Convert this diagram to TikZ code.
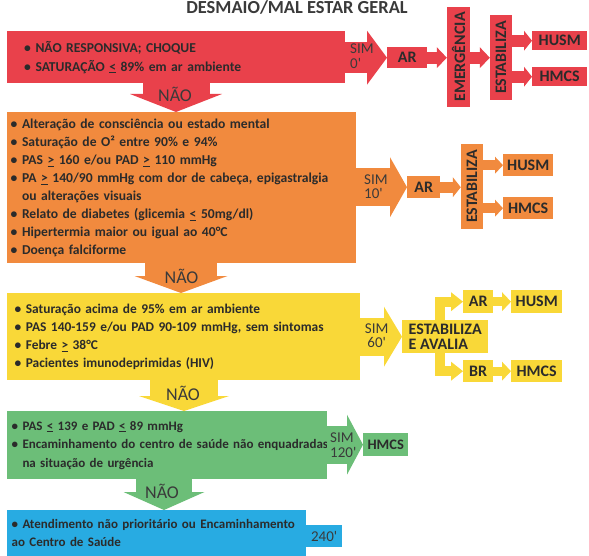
\documentclass[tikz,border=0pt]{standalone}
\usepackage{fontspec}
\setmainfont{Carlito}
\usetikzlibrary{arrows.meta}

\definecolor{cred}{HTML}{E9414B}
\definecolor{corange}{HTML}{F18A3E}
\definecolor{cyellow}{HTML}{F9D838}
\definecolor{cgreen}{HTML}{6CBE78}
\definecolor{cblue}{HTML}{28ABE2}
\definecolor{ink}{HTML}{2B2B2B}
\definecolor{soft}{HTML}{3A3A3A}

\newcommand\lte{\underline{<}}
\newcommand\gte{\underline{>}}
\newcommand\qt{\textquotesingle}
% one bulleted line, and an indented continuation line, kept unbroken
\newcommand\bitem[1]{\mbox{• #1}}
\newcommand\bcont[1]{\mbox{\phantom{• }#1}}

\tikzset{
  heading/.style={anchor=base, inner sep=0pt, text=soft,
    font=\fontsize{18.4}{20}\selectfont\bfseries},
  panel/.style={anchor=north west, inner ysep=0pt, align=left, text=ink,
    font=\fontsize{13.6}{18}\selectfont\bfseries},
  tag/.style={anchor=north west, inner sep=0pt, align=center, text=ink,
    font=\fontsize{16}{14.5}\selectfont\bfseries},
  simlabel/.style={inner sep=0pt, text=soft},
  nolabel/.style={anchor=base, inner sep=0pt, text=soft,
    font=\fontsize{18}{18}\selectfont},
  pipe/.style args={#1/#2/#3}{line width=#1,
    -{Triangle[length=#3,width=#2,line width=0pt]}},
}

\begin{document}
\begin{tikzpicture}[x=1pt,y=-1pt]
\useasboundingbox (0,0) rectangle (589,556);

% axes of the downward "NÃO" arrows and of the split arrows
\coordinate (nx1) at (176,0);
\coordinate (nx2) at (181,0);
\coordinate (nx3) at (184,0);
\coordinate (nx4) at (164,0);
\coordinate (bx) at (440,0);

\node[heading] (title) at (297,13.3) {DESMAIO/MAL ESTAR GERAL};

% ---------------- red level ----------------
\node[panel, fill=cred, inner xsep=17pt, text width=304pt, minimum height=52pt,
      font=\fontsize{13.6}{19}\selectfont\bfseries] (p1) at (7,31)
  {\bitem{NÃO RESPONSIVA; CHOQUE}\\\bitem{SATURAÇÃO \lte{} 89\% em ar ambiente}};
\node[tag, fill=cred, minimum width=40pt, minimum height=21pt] (ar1) at (387,47) {AR};
\node[tag, fill=cred, minimum width=100pt, minimum height=23pt, rotate=90,
      anchor=center] (em1) at (458.5,57) {EMERGÊNCIA};
\node[tag, fill=cred, minimum width=85pt, minimum height=22pt, rotate=90,
      anchor=center] (es1) at (501,57.5) {ESTABILIZA};
\node[tag, fill=cred, minimum width=55pt, minimum height=19pt] (hu1) at (532,31) {HUSM};
\node[tag, fill=cred, minimum width=55pt, minimum height=19pt] (hm1) at (532,67) {HMCS};

\draw[pipe=31pt/54pt/20pt, cred] (p1.east |- ar1.west) -- (ar1.west);
\draw[pipe=12pt/21pt/10pt, cred] (ar1.east) -- (ar1.east -| em1.north);
\draw[pipe=12pt/21pt/10pt, cred] (em1.south |- ar1.east) -- (ar1.east -| es1.north);
\draw[pipe=12pt/20pt/8pt, cred] (es1.south |- hu1.west) -- (hu1.west);
\draw[pipe=12pt/20pt/8pt, cred] (es1.south |- hm1.west) -- (hm1.west);
\node[simlabel, anchor=west, align=left, font=\fontsize{15}{15}\selectfont]
  (s1) at (350,55.8) {SIM\\0\qt};

% ---------------- orange level ----------------
\node[panel, fill=corange, inner xsep=3.5pt, text width=342pt, minimum height=151pt]
  (p2) at (7,112)
  {\bitem{Alteração de consciência ou estado mental}\\
   \bitem{Saturação de O² entre 90\% e 94\%}\\
   \bitem{PAS \gte{} 160 e/ou PAD \gte{} 110 mmHg}\\
   \bitem{PA \gte{} 140/90 mmHg com dor de cabeça, epigastralgia}\\
   \bcont{ou alterações visuais}\\
   \bitem{Relato de diabetes (glicemia \lte{} 50mg/dl)}\\
   \bitem{Hipertermia maior ou igual ao 40°C}\\
   \bitem{Doença falciforme}};
\node[tag, fill=corange, minimum width=33pt, minimum height=22pt] (ar2) at (407,176) {AR};
\node[tag, fill=corange, minimum width=85pt, minimum height=22pt, rotate=90,
      anchor=center] (es2) at (472,186.5) {ESTABILIZA};
\node[tag, fill=corange, minimum width=50pt, minimum height=22pt] (hu2) at (503,154) {HUSM};
\node[tag, fill=corange, minimum width=50pt, minimum height=22pt] (hm2) at (503,197) {HMCS};

\draw[pipe=67pt/92pt/18pt, cred] (nx1 |- p1.south) -- (nx1 |- p2.north);
\draw[pipe=38pt/60pt/17pt, corange] (p2.east |- ar2.west) -- (ar2.west);
\draw[pipe=11pt/20pt/8pt, corange] (ar2.east) -- (ar2.east -| es2.north);
\draw[pipe=10pt/17pt/8pt, corange] (es2.south |- hu2.west) -- (hu2.west);
\draw[pipe=10pt/17pt/8pt, corange] (es2.south |- hm2.west) -- (hm2.west);
\node[simlabel, anchor=west, align=left, font=\fontsize{15}{14}\selectfont]
  (s2) at (364,186.5) {SIM\\10\qt};
\node[nolabel] (n1) at (175,102) {NÃO};

% ---------------- yellow level ----------------
\node[panel, fill=cyellow, inner xsep=7.5pt, text width=338pt, minimum height=87pt,
      font=\fontsize{13.4}{18}\selectfont\bfseries] (p3) at (7,293)
  {\bitem{Saturação acima de 95\% em ar ambiente}\\
   \bitem{PAS 140-159 e/ou PAD 90-109 mmHg, sem sintomas}\\
   \bitem{Febre \gte{} 38°C}\\
   \bitem{Pacientes imunodeprimidas (HIV)}};
\node[tag, fill=cyellow, minimum width=86pt, minimum height=33pt, align=left]
  (es3) at (402,320) {ESTABILIZA\\E AVALIA};
\node[tag, fill=cyellow, minimum width=30pt, minimum height=23pt] (ar3) at (463,290) {AR};
\node[tag, fill=cyellow, minimum width=51pt, minimum height=23pt] (hu3) at (511,290) {HUSM};
\node[tag, fill=cyellow, minimum width=30pt, minimum height=22pt] (br3) at (463,360) {BR};
\node[tag, fill=cyellow, minimum width=51pt, minimum height=22pt] (hm3) at (511,360) {HMCS};

\draw[pipe=72pt/93pt/17pt, corange] (nx2 |- p2.south) -- (nx2 |- p3.north);
\draw[pipe=38pt/60pt/18pt, cyellow] (p3.east |- es3.west) -- (es3.west);
\draw[pipe=10pt/19pt/12pt, cyellow] (bx |- es3.north) |- (ar3.west);
\draw[pipe=10pt/19pt/12pt, cyellow] (bx |- es3.south) |- (br3.west);
\draw[pipe=9pt/19pt/9pt, cyellow] (ar3.east) -- (hu3.west);
\draw[pipe=9pt/19pt/9pt, cyellow] (br3.east) -- (hm3.west);
\node[simlabel, anchor=center, align=center, font=\fontsize{15}{14}\selectfont]
  (s3) at (376.7,336) {SIM\\60\qt};
\node[nolabel] (n2) at (181.5,283) {NÃO};

% ---------------- green level ----------------
\node[panel, fill=cgreen, inner xsep=4.5pt, text width=311pt, minimum height=68pt,
      font=\fontsize{13}{18.5}\selectfont\bfseries] (p4) at (7,411)
  {\bitem{PAS \lte{} 139 e PAD \lte{} 89 mmHg}\\
   \bitem{Encaminhamento do centro de saúde não enquadradas}\\
   \bcont{na situação de urgência}};
\node[tag, fill=cgreen, minimum width=45pt, minimum height=23pt,
      font=\fontsize{14.5}{14}\selectfont\bfseries] (hm4) at (363,433) {HMCS};

\draw[pipe=68pt/90pt/15pt, cyellow] (nx3 |- p3.south) -- (nx3 |- p4.north);
\draw[pipe=38pt/60pt/16pt, cgreen] (p4.east |- hm4.west) -- (hm4.west);
\node[simlabel, anchor=west, align=left, font=\fontsize{15}{15}\selectfont]
  (s4) at (330,445.5) {SIM\\120\qt};
\node[nolabel] (n3) at (183,400) {NÃO};

% ---------------- blue level ----------------
\node[panel, fill=cblue, inner xsep=4.5pt, text width=290pt, minimum height=46pt,
      font=\fontsize{13}{18}\selectfont\bfseries] (p5) at (7,510)
  {\bitem{Atendimento não prioritário ou Encaminhamento}\\
   \mbox{ao Centro de Saúde}};
\node[tag, fill=cblue, minimum width=36pt, minimum height=22pt, text=soft,
      font=\fontsize{15}{15}\selectfont] (t240) at (306,525) {240\qt};

\draw[pipe=56pt/81pt/18pt, cgreen] (nx4 |- p4.south) -- (nx4 |- p5.north);
\node[nolabel] (n4) at (162,498) {NÃO};
\end{tikzpicture}
\end{document}
